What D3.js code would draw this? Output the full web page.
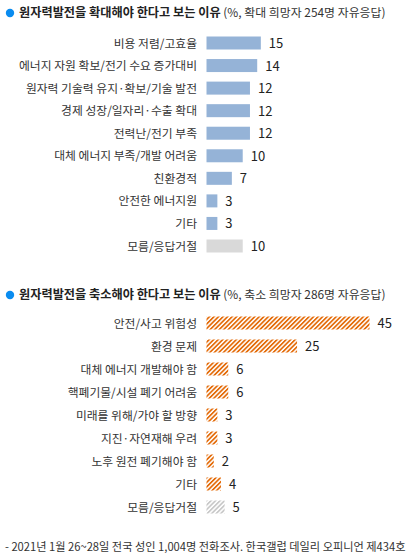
<!DOCTYPE html>
<html>
<head>
<meta charset="utf-8">
<script src="https://cdn.jsdelivr.net/npm/d3@7"></script>
<style>
  body { margin: 0; background: #fff; }
  text { font-family: "Noto Sans CJK KR", "Noto Sans", sans-serif; }
</style>
</head>
<body>
<script>
// 확대 이유
var expandLabels = ['비용 저렴/고효율', '에너지 자원 확보/전기 수요 증가대비', '원자력 기술력 유지·확보/기술 발전',
  '경제 성장/일자리·수출 확대', '전력난/전기 부족', '대체 에너지 부족/개발 어려움', '친환경적',
  '안전한 에너지원', '기타', '모름/응답거절'];
var expandValues = [15, 14, 12, 12, 12, 10, 7, 3, 3, 10];

// 축소 이유
var reduceLabels = ['안전/사고 위험성', '환경 문제', '대체 에너지 개발해야 함', '핵폐기물/시설 폐기 어려움',
  '미래를 위해/가야 할 방향', '지진·자연재해 우려', '노후 원전 폐기해야 함', '기타', '모름/응답거절'];
var reduceValues = [45, 25, 6, 6, 3, 3, 2, 4, 5];

var svg = d3.select('body').append('svg')
    .attr('width', 414)
    .attr('height', 558);

var defs = svg.append('defs');
function hatch(id, color) {
    var p = defs.append('pattern')
        .attr('id', id)
        .attr('patternUnits', 'userSpaceOnUse')
        .attr('width', 3.2)
        .attr('height', 3.2)
        .attr('patternTransform', 'rotate(45)');
    p.append('rect').attr('width', 3.2).attr('height', 3.2).attr('fill', '#fff');
    p.append('rect').attr('width', 1.7).attr('height', 3.2).attr('fill', color);
}
hatch('hOrange', '#e46c0a');
hatch('hGray', '#c8c8c8');

var x = d3.scaleLinear().domain([0, 45]).range([0, 163]);
var barX = 206.5;

function title(y, bold, rest) {
    svg.append('circle').attr('cx', 10).attr('cy', y - 4).attr('r', 4.2).attr('fill', '#0a8cf0');
    var t = svg.append('text').attr('x', 19).attr('y', y)
        .attr('font-size', 12.2).attr('fill', '#222');
    t.append('tspan').attr('font-weight', 'bold').text(bold);
    t.append('tspan').attr('font-size', 11.9).attr('fill', '#333').text(' ' + rest);
}

function chart(labels, values, y0, y1, colorFn) {
    var y = d3.scalePoint().domain(labels).range([y0, y1]);
    var g = svg.append('g');
    g.selectAll('rect').data(labels).enter().append('rect')
        .attr('x', barX)
        .attr('y', function(d) { return y(d) - 6.5; })
        .attr('width', function(d, i) { return x(values[i]); })
        .attr('height', 13)
        .attr('fill', colorFn);
    g.selectAll('text.lab').data(labels).enter().append('text')
        .attr('class', 'lab')
        .attr('x', 197)
        .attr('y', function(d) { return y(d) + 4.5; })
        .attr('text-anchor', 'end')
        .attr('font-size', 11.8)
        .attr('fill', '#333')
        .text(function(d) { return d; });
    g.selectAll('text.val').data(labels).enter().append('text')
        .attr('class', 'val')
        .attr('x', function(d, i) { return barX + x(values[i]) + 8; })
        .attr('y', function(d) { return y(d) + 5; })
        .attr('font-size', 13)
        .attr('fill', '#222')
        .text(function(d, i) { return values[i]; });
}

title(17, '원자력발전을 확대해야 한다고 보는 이유', '(%, 확대 희망자 254명 자유응답)');
chart(expandLabels, expandValues, 43, 246, function(d) {
    return d === '모름/응답거절' ? '#d9d9d9' : '#95b3d7';
});

title(299, '원자력발전을 축소해야 한다고 보는 이유', '(%, 축소 희망자 286명 자유응답)');
chart(reduceLabels, reduceValues, 323, 507, function(d) {
    return d === '모름/응답거절' ? 'url(#hGray)' : 'url(#hOrange)';
});

svg.append('text')
    .attr('x', 5)
    .attr('y', 551)
    .attr('font-size', 11.2)
    .attr('fill', '#333')
    .text('- 2021년 1월 26~28일 전국 성인 1,004명 전화조사. 한국갤럽 데일리 오피니언 제434호');
</script>
</body>
</html>
